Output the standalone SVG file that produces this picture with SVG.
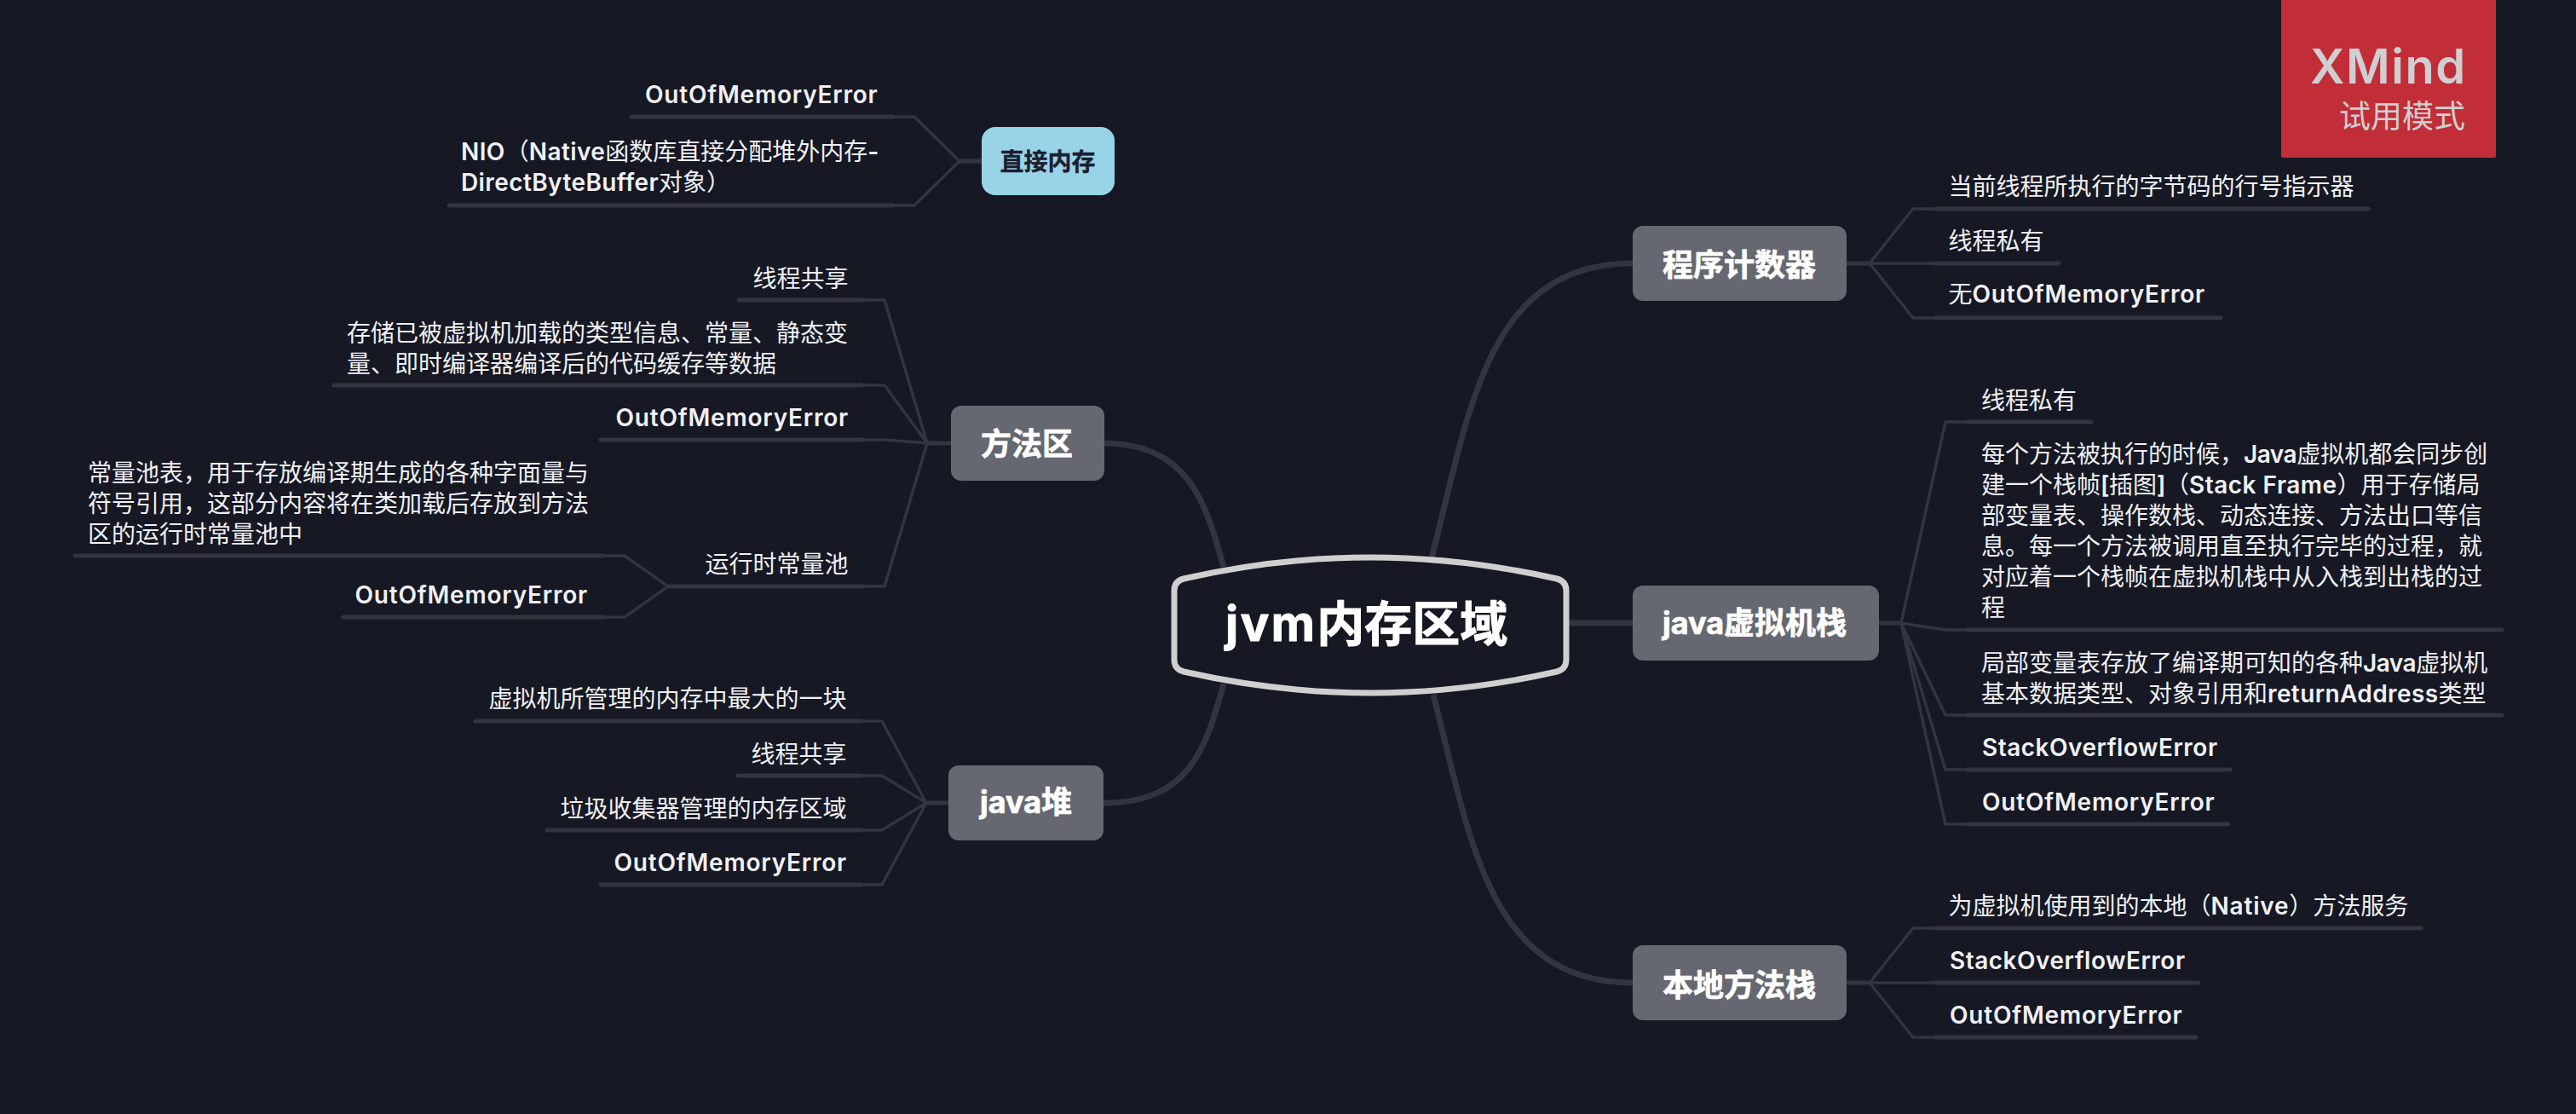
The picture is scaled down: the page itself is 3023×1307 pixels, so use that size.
<svg xmlns="http://www.w3.org/2000/svg" width="3023" height="1307" viewBox="0 0 3023 1307">
<style>
text{font-family:"Noto Sans CJK SC","Noto Sans",sans-serif;font-size:28px;fill:#f0f0f5}
.l{font-family:Inter,"Noto Sans",sans-serif;font-weight:600;letter-spacing:.8px}
.s{letter-spacing:.5px}
.m{letter-spacing:.4px}
.j{letter-spacing:-.5px}
.e{text-anchor:end}
.box{fill:#666871}
.bt{font-size:36px;font-weight:700;fill:#fff;text-anchor:middle;stroke:#fff;stroke-width:.7px}
.bl{font-family:Inter,sans-serif;font-weight:700}
.thick{fill:none;stroke:#32343f;stroke-width:5;stroke-linecap:round}
.thin{fill:none;stroke:#32343f;stroke-width:3.5;stroke-linejoin:round}
.main{fill:none;stroke:#32343f;stroke-width:7}
</style>
<rect width="3023" height="1307" fill="#161923"/>
<g id="connectors">
<path class="main" d="M1436,665C1415,590 1395,520 1295,520"/>
<path class="main" d="M1436,802C1415,880 1395,942 1295,942"/>
<path class="main" d="M1680,655C1725,480 1745,309 1916,309"/>
<path class="main" d="M1682,815C1725,980 1745,1153 1916,1153"/>
<path class="main" d="M1841,731H1916"/>
<path class="thick" d="M1126,189H1152M1088,520H1116M1087,942H1113M2167,309H2194M2205,731H2231M2167,1153H2194"/>
<path class="thin" d="M1047,137H1073L1126,189L1073,241H1047"/>
<path class="thick" d="M741,137H1047M527,241H1047"/>
<path class="thin" d="M1012,352H1038L1088,520L1038,452H1012M1012,516H1038L1088,520L1038,688H1012"/>
<path class="thick" d="M867,352H1012M392,452H1012M705,516H1012M784,688H1012"/>
<path class="thin" d="M707,652H733L784,688L733,724H707"/>
<path class="thick" d="M88,652H707M403,724H707"/>
<path class="thin" d="M1010,846H1035L1087,942L1035,910H1010M1010,974H1035L1087,942L1035,1038H1010"/>
<path class="thick" d="M558,846H1010M866,910H1010M642,974H1010M705,1038H1010"/>
<path class="thin" d="M2271,245H2245L2194,309L2245,373H2271M2194,309H2271"/>
<path class="thick" d="M2271,245H2779M2271,309H2416M2271,373H2606"/>
<path class="thin" d="M2309,495H2283L2231,731L2283,739H2309M2231,731L2283,839H2309M2231,731L2283,903H2309M2231,731L2283,967H2309"/>
<path class="thick" d="M2309,495H2454M2309,739H2936M2309,839H2936M2309,903H2617M2309,967H2615"/>
<path class="thin" d="M2271,1089H2245L2194,1153L2245,1217H2271M2194,1153H2271"/>
<path class="thick" d="M2271,1089H2841M2271,1153H2580M2271,1217H2577"/>
</g>
<g id="root">
<path d="M1378,693Q1378,682 1389,679Q1500,654 1608,654Q1716,654 1827,679Q1838,682 1838,693V774Q1838,785 1827,788Q1716,813 1608,813Q1500,813 1389,788Q1378,785 1378,774Z" fill="#161923" stroke="#cfcfcf" stroke-width="7"/>
<text x="1438" y="752" style="font-size:56px;font-weight:700;fill:#fff;stroke:#fff;stroke-width:1px"><tspan class="bl" style="letter-spacing:2.5px">jvm</tspan>内存区域</text>
</g>
<g id="watermark">
<path d="M2677,0H2929V183Q2929,185 2927,185H2679Q2677,185 2677,183Z" fill="#c22e38"/>
<text x="2711" y="98" style="font-family:Inter,sans-serif;font-weight:600;font-size:56px;letter-spacing:1.6px;fill:#cfcfd2">XMind</text>
<text x="2745" y="150" style="font-size:37px;fill:#cfcfd2">试用模式</text>
</g>
<g id="direct">
<rect class="box" x="1152" y="149" width="156" height="80" rx="16" style="fill:#98d3e8"/>
<text class="bt" x="1229.5" y="200" style="font-size:28px;fill:#1c2030;stroke:#1c2030;stroke-width:.4px">直接内存</text>
</g>
<g id="d1"><text class="l" x="757" y="121">OutOfMemoryError</text></g>
<g id="d2"><text x="541" y="188"><tspan class="l m">NIO</tspan>（<tspan class="l m">Native</tspan>函数库直接分配堆外内存<tspan class="l">-</tspan></text><text x="541" y="224"><tspan class="l m">DirectByteBuffer</tspan>对象）</text></g>
<g id="method">
<rect class="box" x="1116" y="476" width="180" height="88" rx="12"/>
<text class="bt" x="1205" y="534">方法区</text>
</g>
<g id="m1"><text class="e" x="995.5" y="337">线程共享</text></g>
<g id="m2"><text x="407" y="401">存储已被虚拟机加载的类型信息、常量、静态变</text><text x="407" y="437">量、即时编译器编译后的代码缓存等数据</text></g>
<g id="m3"><text class="l e" x="996" y="500">OutOfMemoryError</text></g>
<g id="m4"><text class="e" x="995.5" y="672">运行时常量池</text></g>
<g id="m41"><text x="103" y="565">常量池表，用于存放编译期生成的各种字面量与</text><text x="103" y="601">符号引用，这部分内容将在类加载后存放到方法</text><text x="103" y="637">区的运行时常量池中</text></g>
<g id="m42"><text class="l e" x="690" y="708">OutOfMemoryError</text></g>
<g id="heap">
<rect class="box" x="1113" y="898" width="182" height="88" rx="12"/>
<text class="bt" x="1204" y="954"><tspan class="bl">java</tspan>堆</text>
</g>
<g id="h1"><text class="e" x="993.5" y="830">虚拟机所管理的内存中最大的一块</text></g>
<g id="h2"><text class="e" x="993.5" y="895">线程共享</text></g>
<g id="h3"><text class="e" x="993.5" y="959">垃圾收集器管理的内存区域</text></g>
<g id="h4"><text class="l e" x="994" y="1022">OutOfMemoryError</text></g>
<g id="pc">
<rect class="box" x="1916" y="265" width="251" height="88" rx="12"/>
<text class="bt" x="2041" y="324">程序计数器</text>
</g>
<g id="p1"><text x="2286.5" y="229">当前线程所执行的字节码的行号指示器</text></g>
<g id="p2"><text x="2286.5" y="293">线程私有</text></g>
<g id="p3"><text x="2286.5" y="355">无<tspan class="l">OutOfMemoryError</tspan></text></g>
<g id="stack">
<rect class="box" x="1916" y="687" width="289" height="88" rx="12"/>
<text class="bt" x="2059" y="744"><tspan class="bl">java</tspan>虚拟机栈</text>
</g>
<g id="s1"><text x="2325" y="480">线程私有</text></g>
<g id="s2"><text x="2325" y="543">每个方法被执行的时候，<tspan class="l j">Java</tspan>虚拟机都会同步创</text><text x="2325" y="579">建一个栈帧<tspan class="l j">[</tspan>插图<tspan class="l j">]</tspan>（<tspan class="l s">Stack Frame</tspan>）用于存储局</text><text x="2325" y="615">部变量表、操作数栈、动态连接、方法出口等信</text><text x="2325" y="651">息。每一个方法被调用直至执行完毕的过程，就</text><text x="2325" y="687">对应着一个栈帧在虚拟机栈中从入栈到出栈的过</text><text x="2325" y="723">程</text></g>
<g id="s3"><text x="2325" y="788">局部变量表存放了编译期可知的各种<tspan class="l j">Java</tspan>虚拟机</text><text x="2325" y="824">基本数据类型、对象引用和<tspan class="l m">returnAddress</tspan>类型</text></g>
<g id="s4"><text class="l s" x="2326" y="887">StackOverflowError</text></g>
<g id="s5"><text class="l" x="2326" y="951">OutOfMemoryError</text></g>
<g id="native">
<rect class="box" x="1916" y="1109" width="251" height="88" rx="12"/>
<text class="bt" x="2041" y="1169">本地方法栈</text>
</g>
<g id="n1"><text x="2286.5" y="1073">为虚拟机使用到的本地（<tspan class="l">Native</tspan>）方法服务</text></g>
<g id="n2"><text class="l s" x="2288" y="1137">StackOverflowError</text></g>
<g id="n3"><text class="l" x="2288" y="1201">OutOfMemoryError</text></g>
</svg>
